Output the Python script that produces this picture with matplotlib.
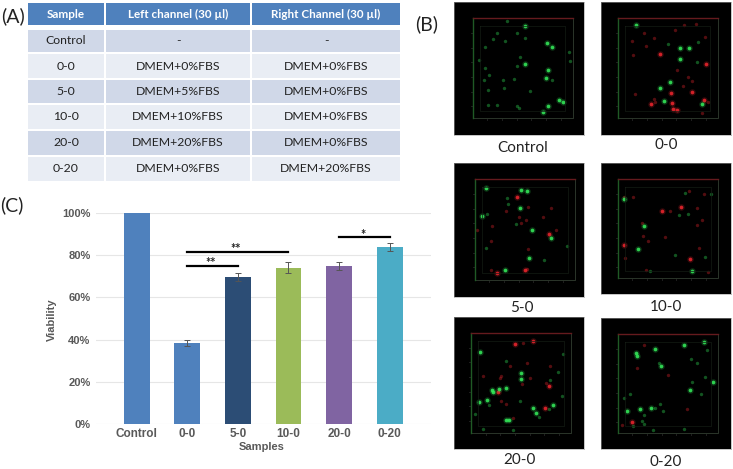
import matplotlib
matplotlib.use('Agg')
import matplotlib.pyplot as plt
from matplotlib.patches import Rectangle

plt.rcParams['font.family'] = ['Lato', 'DejaVu Sans']

W, H = 733, 469

# table (A)
table_header = ['Sample', 'Left channel (30 \u00b5l)', 'Right Channel (30 \u00b5l)']
table_rows = [
    ['Control', '-', '-'],
    ['0-0', 'DMEM+0%FBS', 'DMEM+0%FBS'],
    ['5-0', 'DMEM+5%FBS', 'DMEM+0%FBS'],
    ['10-0', 'DMEM+10%FBS', 'DMEM+0%FBS'],
    ['20-0', 'DMEM+20%FBS', 'DMEM+0%FBS'],
    ['0-20', 'DMEM+0%FBS', 'DMEM+20%FBS'],
]

# bar chart (C)
samples = ['Control', '0-0', '5-0', '10-0', '20-0', '0-20']
viability = [100, 38.3, 69.5, 74, 74.7, 83.7]
errors = [0, 1.4, 2, 2.7, 2, 2]
bar_colors = ['#4F81BD', '#4F81BD', '#2C4D75', '#9BBB59', '#8064A2', '#4BACC6']

# confocal panels (B), spots, brightest first
control_green = [(256,79),(320,128),(337,142),(255,193),(325,210),(319,233),(323,319),(309,336),
                 (357,299),(370,307),(269,272),(145,316),(238,325),(232,199),(223,237),(172,100),(195,123),
                 (202,62),(232,100),(255,113),(160,117),(136,140),(118,181),(135,205),(240,170),(189,239),
                 (192,265),(133,240),(147,225),(337,240),(232,317),(172,316),(390,183),(388,157),(145,270)]
p00_green = [(589,75),(721,145),(748,145),(721,178),(691,245),(659,265),(672,304),(787,312),(773,126),(770,187),(685,132)]
p00_red = [(792,299),(711,329),(698,327),(632,312),(797,192),(660,163),(694,278),(757,275),(697,309),(803,305),
           (619,138),(641,115),(706,91),(795,112),(576,124),(612,100),(579,165),(757,244),(728,258),(645,306),
           (642,296),(787,340),(712,210),(743,230),(767,72),(732,76),(585,281)]
p50_green = [(137,100),(244,104),(262,108),(240,159),(125,183),(275,225),(332,248),(266,309),
             (196,346),(139,278),(205,147),(313,314),(229,208),(202,128),(381,273),(141,178)]
p50_red = [(232,126),(172,354),(255,344),(327,236),(154,346),(262,341),(243,203),(197,168),(157,213),(110,225),
           (264,282),(332,158),(263,157),(257,195),(349,225),(309,185),(238,187),(153,257)]
p100_green = [(553,131),(612,213),(594,281),(755,349),(813,116),(795,305),(716,180),(745,178),(630,347),(736,115),(706,300)]
p100_red = [(723,155),(552,270),(750,313),(666,168),(691,168),(605,204),(610,242),(553,125),(624,259),(618,345),
            (803,350),(747,108),(787,196),(771,211),(771,160),(778,280),(579,125),(793,118),(556,310),(675,245)]
p200_green = [(243,206),(243,189),(120,126),(116,276),(142,269),(198,234),(178,238),(155,241),(159,247),(280,294),
              (287,309),(338,286),(198,331),(208,331),(220,361),(298,322),(104,313),(240,272),(199,153),(146,284),
              (130,357),(369,132),(365,257),(354,185),(330,211),(326,296)]
p200_red = [(226,102),(327,229),(280,94),(173,245),(314,295),(318,219),(183,272),(199,281),(269,203),(181,204),
            (331,168),(246,222),(260,160),(220,323),(210,168),(249,98),(128,198),(184,197)]
p020_green = [(820,217),(750,241),(592,137),(589,130),(646,116),(731,105),(792,95),(664,167),(562,302),(601,298),(634,293),
              (669,303),(607,333),(611,343),(579,349),(551,263),(802,119),(658,158),(795,201),(570,253),
              (612,314),(661,282),(755,215),(753,146),(771,160),(782,253),(644,294),(732,357),(640,361)]
p020_red = [(576,336),(545,344),(611,104),(683,194),(591,175),(742,298)]


def px_axes(left, top, right, bottom):
    return fig.add_axes([left / W, 1 - bottom / H, (right - left) / W, (bottom - top) / H])


def draw_spots(ax, pts, color, n_bright):
    xs = [p[0] for p in pts]
    ys = [p[1] for p in pts]
    # dim ones
    ax.scatter(xs[n_bright:], ys[n_bright:], s=6, color=color, alpha=0.35, linewidths=0)
    # bright ones get a soft halo
    ax.scatter(xs[:n_bright], ys[:n_bright], s=22, color=color, alpha=0.2, linewidths=0)
    ax.scatter(xs[:n_bright], ys[:n_bright], s=7, color=color, alpha=0.85, linewidths=0)


def panel(bounds, origin_y, frame, green, red, n_green, n_red):
    # bounds and frame are in the 3x crop coordinates
    x0, y0, x1, y1 = bounds
    left = 440 + x0 / 3
    right = 440 + x1 / 3
    top = origin_y + y0 / 3
    bottom = origin_y + y1 / 3
    ax = px_axes(left, top, right, bottom)
    ax.set_facecolor('black')
    ax.set_xlim(x0, x1)
    ax.set_ylim(y1, y0)
    ax.set_xticks([])
    ax.set_yticks([])
    for s in ax.spines.values():
        s.set_color('#9a9a9a')
        s.set_linewidth(0.4)
    fl, ft, fr, fb = frame
    ax.plot([fl + 22, fr - 22, fr - 22, fl + 22, fl + 22],
            [ft + 23, ft + 23, fb - 23, fb - 23, ft + 23], color='#141c14', lw=0.5)
    ax.plot([fr, fr, fl], [ft, fb, fb], color='#2b352a', lw=0.7)
    ax.plot([fl, fl], [ft, fb], color='#1f5a25', lw=1)
    ax.plot([fl, fr], [ft, ft], color='#651a1e', lw=1)
    # small ticks around the frame
    for k in range(1, 7):
        ax.plot([fl - 5, fl - 2], [ft + k * 44, ft + k * 44], color='#444444', lw=0.4)
        ax.plot([fl + k * 44, fl + k * 44], [fb + 2, fb + 5], color='#444444', lw=0.4)
    if red:
        draw_spots(ax, red, '#f0262e', n_red)
    draw_spots(ax, green, '#35ef5c', n_green)


fig = plt.figure(figsize=(W / 100, H / 100), dpi=100, facecolor='white')

# overlay in picture pixels for the table and the captions
bg = fig.add_axes([0, 0, 1, 1])
bg.set_xlim(0, W)
bg.set_ylim(H, 0)
bg.axis('off')

col_edges = [(28, 104), (106, 250), (252, 400)]
row_edges = [(3, 25), (30, 52), (54, 78), (80, 103), (105, 129), (131, 155), (157, 181)]
for r, (y0, y1) in enumerate(row_edges):
    cells = table_header if r == 0 else table_rows[r - 1]
    if r == 0:
        fc = '#4F81BD'
    elif r % 2 == 1:
        fc = '#D0D8E8'
    else:
        fc = '#E9EDF4'
    for (x0, x1), label in zip(col_edges, cells):
        bg.add_patch(Rectangle((x0, y0), x1 - x0, y1 - y0, facecolor=fc, edgecolor='none'))
        bg.text((x0 + x1) / 2, (y0 + y1) / 2, label, ha='center', va='center',
                fontsize=8.4 if r == 0 else 8.8,
                color='white' if r == 0 else '#222222', fontweight='bold' if r == 0 else 'normal')

for label, x, y in [('(A)', 13, 16), ('(B)', 427, 24), ('(C)', 12, 205)]:
    bg.text(x, y, label, ha='center', va='center', fontsize=14, color='#222222')

for label, x, y in [('Control', 523, 148), ('0-0', 666, 145), ('5-0', 522, 308),
                    ('10-0', 666, 307), ('20-0', 519, 460), ('0-20', 666, 462)]:
    bg.text(x, y, label, ha='center', va='center', fontsize=11, color='#222222')

panel((42, 7, 433, 404), 0, (98, 55, 398, 355), control_green, [], 10, 0)
panel((483, 7, 874, 404), 0, (533, 55, 833, 355), p00_green, p00_red, 8, 9)
panel((42, 25, 433, 425), 155, (104, 73, 406, 376), p50_green, p50_red, 9, 4)
panel((483, 25, 874, 418), 155, (533, 73, 834, 370), p100_green, p100_red, 4, 4)
panel((42, 20, 433, 418), 310, (93, 69, 393, 370), p200_green, p200_red, 14, 5)
panel((483, 25, 874, 418), 310, (533, 73, 834, 370), p020_green, p020_red, 11, 1)

# bar chart
ax = px_axes(96, 212.7, 431, 424.3)
ax.patch.set_alpha(0)
x = list(range(len(samples)))
ax.bar(x, viability, width=0.51, color=bar_colors, zorder=2)
ax.errorbar(x[1:], viability[1:], yerr=errors[1:], fmt='none', ecolor='#555555',
            elinewidth=0.7, capsize=2.5, capthick=0.7, zorder=3)
ax.set_xlim(-0.804, 5.816)
ax.set_ylim(0, 100)
ax.set_yticks([0, 20, 40, 60, 80, 100])
ax.set_yticklabels(['0%', '20%', '40%', '60%', '80%', '100%'])
ax.set_xticks(x)
ax.set_xticklabels(samples)
ax.tick_params(length=0, labelsize=8, labelcolor='#595959', pad=4)
ax.tick_params(axis='x', labelsize=8.5, pad=3)
for t in ax.get_xticklabels() + ax.get_yticklabels():
    t.set_fontweight('bold')
    t.set_fontfamily(['Liberation Sans', 'DejaVu Sans'])
ax.grid(axis='y', color='#E6E6E6', lw=0.8, zorder=0)
for s in ax.spines.values():
    s.set_visible(False)

# significance bars
ax.plot([1, 2], [75, 75], color='black', lw=1.6, zorder=4)
ax.plot([1, 3], [81.4, 81.4], color='black', lw=1.6, zorder=4)
ax.plot([4, 5], [88.5, 88.5], color='black', lw=1.6, zorder=4)
ax.text(1.47, 76, '**', ha='center', va='center', fontsize=9, fontweight='bold', color='#222222')
ax.text(1.96, 83, '**', ha='center', va='center', fontsize=9, fontweight='bold', color='#222222')
ax.text(4.48, 89.5, '*', ha='center', va='center', fontsize=9, fontweight='bold', color='#222222')

bg.text(52, 320, 'Viability', rotation=90, ha='center', va='center', fontsize=8, fontweight='bold',
        color='#595959', family=['Liberation Sans', 'DejaVu Sans'])
bg.text(262, 447, 'Samples', ha='center', va='center', fontsize=8, fontweight='bold',
        color='#595959', family=['Liberation Sans', 'DejaVu Sans'])

fig.savefig('out.png', dpi=100)
